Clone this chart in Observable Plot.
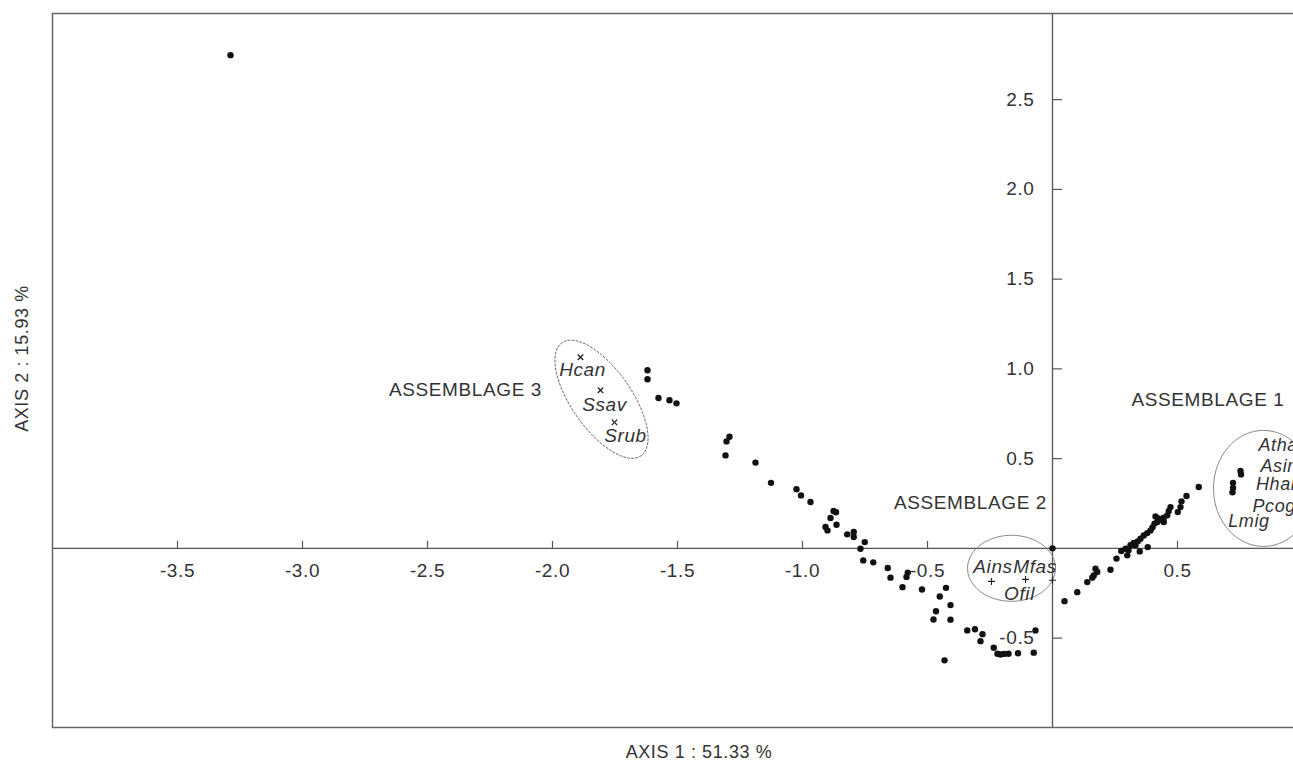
<!DOCTYPE html>
<html><head><meta charset="utf-8">
<script src="https://cdn.jsdelivr.net/npm/d3@7"></script>
<script src="https://cdn.jsdelivr.net/npm/@observablehq/plot@0.6"></script>
<style>
html,body{margin:0;padding:0;background:#fff;}
#chart svg{display:block;}
#chart svg text{letter-spacing:0.6px;}
</style></head><body><div id="chart"></div>
<script>
// Site scores (AXIS 1, AXIS 2)
const siteX = [-3.288,-1.620,-1.620,-1.576,-1.532,-1.504,-1.292,-1.304,-1.308,-1.188,-1.126,-1.024,-1.006,-0.968,-0.876,-0.866,-0.888,-0.864,-0.908,-0.900,-0.821,-0.795,-0.795,-0.751,-0.768,-0.757,-0.717,-0.659,-0.648,-0.584,-0.579,-0.600,-0.522,-0.426,-0.451,-0.408,-0.466,-0.476,-0.408,-0.341,-0.310,-0.280,-0.288,-0.235,-0.220,-0.208,-0.194,-0.176,-0.138,-0.075,-0.068,-0.432,0.000,
0.048,0.099,0.139,0.159,0.165,0.179,0.172,0.232,0.256,0.275,0.292,0.299,0.312,0.325,0.341,0.349,0.352,0.365,0.379,0.381,0.392,0.408,0.412,0.419,0.432,0.445,0.445,0.459,0.465,0.472,0.501,0.512,0.516,0.536,0.585,0.424,0.400,0.332,0.304,
0.752,0.754,0.722,0.722,0.720];
const siteY = [2.748,0.992,0.942,0.838,0.825,0.808,0.622,0.596,0.518,0.478,0.365,0.329,0.295,0.258,0.208,0.201,0.169,0.132,0.119,0.100,0.078,0.091,0.063,0.035,-0.002,-0.067,-0.078,-0.109,-0.163,-0.159,-0.135,-0.216,-0.229,-0.220,-0.268,-0.316,-0.350,-0.396,-0.397,-0.457,-0.451,-0.478,-0.517,-0.554,-0.587,-0.591,-0.588,-0.587,-0.584,-0.581,-0.457,-0.624,0.000,
-0.294,-0.244,-0.188,-0.163,-0.151,-0.132,-0.113,-0.119,-0.057,-0.015,-0.002,-0.039,0.017,0.030,0.039,-0.017,0.054,0.072,0.085,0.007,0.100,0.138,0.178,0.147,0.160,0.171,0.147,0.184,0.208,0.230,0.202,0.230,0.262,0.292,0.342,0.167,0.117,0.017,-0.011,
0.431,0.412,0.365,0.337,0.312];

// Species markers
const crossSpecies = ["Hcan","Ssav","Srub"];
const crossX = [-1.888,-1.808,-1.752];
const crossY = [1.065,0.881,0.702];
const plusSpecies = ["Ains","Mfas","Ofil"];
const plusX = [-0.244,-0.108,0.000];
const plusY = [-0.184,-0.173,-0.178];

// Species labels
const labelSpecies = ["Hcan","Ssav","Srub","Ains","Mfas","Ofil"];
const labelX = [-1.880,-1.792,-1.708,-0.238,-0.070,-0.132];
const labelY = [0.992,0.797,0.624,-0.106,-0.106,-0.251];
const label1Species = ["Atha","Asin","Hhal","Pcog","Lmig"];
const label1X = [0.824,0.832,0.814,0.800,0.703];
const label1Y = [0.574,0.457,0.360,0.234,0.150];

// Assemblage labels
const groupNames = ["ASSEMBLAGE 3","ASSEMBLAGE 2","ASSEMBLAGE 1"];
const groupX = [-2.348,-0.328,0.622];
const groupY = [0.881,0.251,0.825];

// Ellipses around assemblages (centre in data units)
const ellipseName = ["A3","A2","A1"];
const ellipseCx = [-1.804,-0.164,0.844];
const ellipseCy = [0.831,-0.111,0.334];

// Axis ticks
const xTicks = [-3.5,-3.0,-2.5,-2.0,-1.5,-1.0,-0.5,0.5];
const yTicks = [2.5,2.0,1.5,1.0,0.5,-0.5];
const xTitle = "AXIS 1 : 51.33 %";
const yTitle = "AXIS 2 : 15.93 %";

// ---- layout ----
const W = 1293, H = 760, mL = 52, mR = -2, mT = 13, mB = 33;
const xDom = [-4, 0.972], yDom = [-0.998, 2.98];
const kx = (W - mL - mR) / (xDom[1] - xDom[0]);
const ky = (H - mT - mB) / (yDom[1] - yDom[0]);
// ellipse shape (pixels): semi-axes and rotation
const ellA = [69, 44, 50], ellB = [30, 33, 58], ellRot = [55, 0, 0];
function ellipsePoints(k) {
  const pts = [];
  const th = ellRot[k] * Math.PI / 180;
  for (let s = 0; s <= 96; s++) {
    const t = s / 96 * 2 * Math.PI;
    const ex = ellA[k] * Math.cos(t) * Math.cos(th) - ellB[k] * Math.sin(t) * Math.sin(th);
    const ey = ellA[k] * Math.cos(t) * Math.sin(th) + ellB[k] * Math.sin(t) * Math.cos(th);
    pts.push({name: ellipseName[k], x: ellipseCx[k] + ex / kx, y: ellipseCy[k] - ey / ky});
  }
  return pts;
}
const dashedEll = ellipsePoints(0);
const solidEll = [...ellipsePoints(1), ...ellipsePoints(2)];

const txt = "#333";
const chart = Plot.plot({
  width: W, height: H,
  marginLeft: mL, marginRight: mR, marginTop: mT, marginBottom: mB,
  x: {domain: xDom, axis: null},
  y: {domain: yDom, axis: null},
  style: {fontFamily: "'Liberation Sans', Arial, sans-serif", background: "#fff"},
  marks: [
    Plot.frame({stroke: "#666", strokeWidth: 1.5}),
    Plot.ruleY([0], {stroke: "#555", strokeWidth: 1.3}),
    Plot.ruleX([0], {stroke: "#555", strokeWidth: 1.3}),
    Plot.ruleX(xTicks, {x: d => d, y1: 0, y2: 0, insetTop: -7, stroke: "#555", strokeWidth: 1.2}),
    Plot.ruleY(yTicks, {y: d => d, x1: 0, x2: 0, insetRight: -10, stroke: "#555", strokeWidth: 1.2}),
    Plot.text(xTicks, {x: d => d, y: 0, dy: 23, text: d => d.toFixed(1), fontSize: 19, fill: txt}),
    Plot.text(yTicks, {x: 0, y: d => d, dx: -18, textAnchor: "end", text: d => d.toFixed(1), fontSize: 19, fill: txt}),
    Plot.line(dashedEll, {x: "x", y: "y", z: "name", stroke: "#666", strokeWidth: 1, strokeDasharray: "2,2"}),
    Plot.line(solidEll, {x: "x", y: "y", z: "name", stroke: "#888", strokeWidth: 1}),
    Plot.dot(siteX, {x: d => d, y: (d, i) => siteY[i], r: 3.2, fill: "#111", stroke: "none"}),
    Plot.dot(crossSpecies, {x: (d, i) => crossX[i], y: (d, i) => crossY[i], symbol: "times", r: 2.6, stroke: "#222", strokeWidth: 1.3}),
    Plot.dot(plusSpecies, {x: (d, i) => plusX[i], y: (d, i) => plusY[i], symbol: "plus", r: 2.4, stroke: "#222", strokeWidth: 1.1}),
    Plot.text(labelSpecies, {x: (d, i) => labelX[i], y: (d, i) => labelY[i], text: d => d, fontSize: 19, fontStyle: "italic", fill: txt}),
    Plot.text(label1Species, {x: (d, i) => label1X[i], y: (d, i) => label1Y[i], text: d => d, textAnchor: "start", fontSize: 18, fontStyle: "italic", fill: txt}),
    Plot.text(groupNames, {x: (d, i) => groupX[i], y: (d, i) => groupY[i], text: d => d, fontSize: 19, fill: txt}),
    Plot.text([xTitle], {frameAnchor: "bottom", textAnchor: "middle", lineAnchor: "middle", dx: 25, dy: 25, text: d => d, fontSize: 18, fill: txt}),
    Plot.text([yTitle], {frameAnchor: "left", textAnchor: "middle", lineAnchor: "middle", rotate: -90, dx: -30, dy: -12, text: d => d, fontSize: 18, fill: txt})
  ]
});
document.getElementById("chart").appendChild(chart);
</script>
</body></html>
